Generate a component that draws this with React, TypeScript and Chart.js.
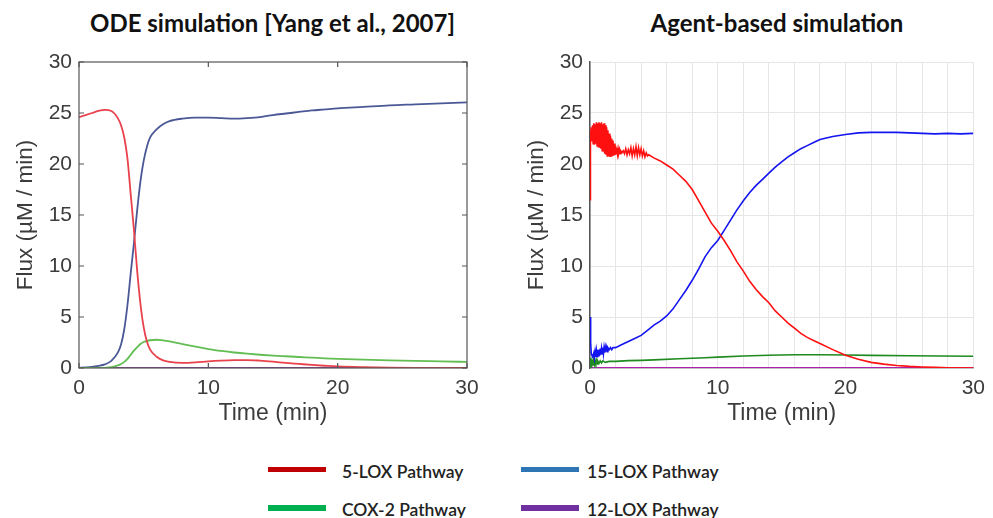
import React, { useEffect, useRef } from "react";
import { Chart, registerables } from "chart.js";

Chart.register(...registerables);

// ---------- ODE simulation [Yang et al., 2007] ----------
const odeTime = [0, 0.5, 1, 1.5, 2, 2.5, 3, 3.25, 3.5, 3.75, 4, 4.25, 4.5, 4.75, 5, 5.25, 5.5, 6, 6.5, 7, 8, 9, 10, 11, 12, 13, 14, 15, 16, 17, 18, 19, 20, 22, 24, 26, 28, 30];
const ode5LOX = [24.6, 24.8, 25.0, 25.2, 25.3, 25.2, 24.5, 23.8, 22.6, 20.5, 17.0, 13.5, 9.5, 6.3, 4.0, 2.6, 1.8, 1.1, 0.75, 0.6, 0.5, 0.55, 0.65, 0.72, 0.77, 0.78, 0.72, 0.62, 0.5, 0.4, 0.3, 0.22, 0.15, 0.08, 0.04, 0.02, 0.01, 0];
const ode15LOX = [0.02, 0.05, 0.1, 0.2, 0.35, 0.7, 1.5, 2.3, 3.8, 6.2, 9.3, 12.3, 15.5, 18.3, 20.3, 21.7, 22.6, 23.4, 23.9, 24.2, 24.45, 24.55, 24.55, 24.5, 24.45, 24.5, 24.6, 24.8, 24.95, 25.1, 25.25, 25.35, 25.45, 25.6, 25.75, 25.85, 25.95, 26.05];
const odeCOX2 = [0, 0, 0, 0.01, 0.02, 0.08, 0.25, 0.4, 0.6, 0.9, 1.3, 1.7, 2.05, 2.35, 2.55, 2.65, 2.72, 2.77, 2.7, 2.6, 2.35, 2.1, 1.85, 1.67, 1.52, 1.4, 1.3, 1.22, 1.15, 1.08, 1.02, 0.95, 0.9, 0.82, 0.75, 0.69, 0.64, 0.6];
const ode12LOX = [0, 0, 0, 0, 0, 0, 0, 0, 0, 0, 0, 0, 0, 0, 0, 0, 0, 0, 0, 0, 0, 0, 0, 0, 0, 0, 0, 0, 0, 0, 0, 0, 0, 0, 0, 0, 0, 0];

// ---------- Agent-based simulation ----------
const abm5LOXTime = [0, 0.02, 0.05,
  0.10, 0.15, 0.20, 0.25, 0.30, 0.35, 0.40, 0.45, 0.50, 0.55, 0.60, 0.65, 0.70, 0.75, 0.80, 0.85, 0.90, 0.95,
  1.00, 1.05, 1.10, 1.15, 1.20, 1.25, 1.30, 1.35, 1.40, 1.45, 1.50, 1.55, 1.60, 1.65, 1.70, 1.75, 1.80, 1.85, 1.90, 1.95,
  2.00, 2.05, 2.10, 2.15, 2.20, 2.25, 2.30, 2.35, 2.40, 2.50, 2.60,
  2.7, 2.8, 2.9, 3.0, 3.1, 3.2, 3.3, 3.4, 3.5, 3.6, 3.7, 3.8, 3.9, 4.0, 4.1, 4.2, 4.3, 4.4, 4.5, 4.6,
  5.0, 5.5, 6.0, 6.5, 7.0, 7.5, 8.0, 8.5, 9.0, 9.5, 10.0, 10.5, 11.0, 11.5, 12.0, 12.5, 13.0, 13.5, 14.0, 14.5, 15.0, 15.5, 16.0, 16.5, 17.0, 17.5, 18.0, 19.0, 20.0, 21.0, 22.0, 23.0, 24.0, 25.0, 26.0, 27.0, 28.0, 30.0];
const abm5LOX = [16.5, 22.0, 22.8,
  23.6, 22.2, 23.8, 22.0, 24.0, 21.9, 23.9, 22.0, 24.1, 21.8, 24.0, 21.7, 24.1, 21.6, 24.0, 21.5, 24.1, 21.3,
  23.9, 21.2, 24.0, 21.0, 23.8, 20.9, 23.6, 20.8, 23.3, 20.8, 23.0, 20.7, 22.8, 20.8, 22.5, 20.9, 22.3, 20.8, 22.0, 20.9,
  21.8, 21.0, 21.6, 21.0, 21.5, 21.1, 21.4, 21.0, 21.3, 21.1, 21.3,
  21.0, 21.5, 20.9, 21.4, 21.0, 21.6, 20.8, 21.5, 20.9, 21.7, 20.8, 21.6, 20.9, 21.5, 20.8, 21.3, 20.7, 21.1, 20.8, 20.9,
  20.6, 20.3, 19.9, 19.5, 18.9, 18.3, 17.5, 16.4, 15.3, 14.2, 13.4, 12.5, 11.5, 10.4, 9.5, 8.5, 7.7, 7.0, 6.4, 5.6, 5.0, 4.4, 3.9, 3.4, 3.0, 2.7, 2.4, 1.8, 1.25, 0.85, 0.55, 0.38, 0.25, 0.16, 0.1, 0.06, 0.03, 0.0];

const abm15LOXTime = [0, 0.05, 0.1, 0.2,
  0.3, 0.35, 0.4, 0.45, 0.5, 0.55, 0.6, 0.65, 0.7, 0.75, 0.8, 0.85, 0.9, 0.95, 1.0, 1.05, 1.1, 1.15, 1.2, 1.25, 1.3, 1.35, 1.4, 1.5, 1.6, 1.7, 1.8,
  2.0, 2.5, 3.0, 3.5, 4.0, 4.5, 5.0, 5.5, 6.0, 6.5, 7.0, 7.5, 8.0, 8.5, 9.0, 9.5, 10.0, 10.5, 11.0, 11.5, 12.0, 12.5, 13.0, 13.5, 14.0, 14.5, 15.0, 15.5, 16.0, 16.5, 17.0, 17.5, 18.0, 19.0, 20.0, 21.0, 22.0, 23.0, 24.0, 25.0, 26.0, 27.0, 28.0, 29.0, 30.0];
const abm15LOX = [5.0, 2.5, 1.4, 1.1,
  1.5, 1.0, 1.6, 1.1, 1.7, 1.1, 1.8, 1.2, 1.8, 1.2, 1.9, 1.3, 1.9, 1.4, 2.0, 1.4, 2.0, 1.5, 2.0, 1.6, 2.0, 1.6, 2.0, 1.8, 2.0, 1.8, 2.0,
  2.0, 2.3, 2.6, 2.9, 3.2, 3.7, 4.2, 4.6, 5.1, 5.8, 6.7, 7.6, 8.6, 9.7, 10.9, 11.8, 12.5, 13.5, 14.5, 15.5, 16.4, 17.2, 17.9, 18.5, 19.1, 19.7, 20.2, 20.7, 21.1, 21.5, 21.8, 22.1, 22.4, 22.7, 22.9, 23.05, 23.1, 23.1, 23.1, 23.05, 23.0, 22.95, 23.0, 22.95, 23.0];

const abmCOX2Time = [0, 0.05, 0.1, 0.15, 0.2, 0.25, 0.3, 0.35, 0.4, 0.45, 0.5, 0.55, 0.6, 0.7, 0.8, 0.9, 1.0, 1.2, 1.5, 2.0, 3.0, 4.0, 5.0, 7.0, 9.0, 10.0, 12.0, 14.0, 16.0, 18.0, 20.0, 22.0, 25.0, 30.0];
const abmCOX2 = [1.0, 0.4, 0.7, 0.3, 0.6, 0.3, 0.65, 0.35, 0.65, 0.35, 0.7, 0.4, 0.7, 0.45, 0.7, 0.5, 0.7, 0.55, 0.65, 0.65, 0.72, 0.75, 0.8, 0.9, 1.0, 1.07, 1.17, 1.25, 1.3, 1.3, 1.28, 1.24, 1.2, 1.15];

const abm12LOXTime = [0, 0.05, 0.1, 1.0, 30.0];
const abm12LOX = [0.8, 0.2, 0.05, 0.03, 0.02];

// ---------- Legend ----------
const legendLabels = ["5-LOX Pathway", "15-LOX Pathway", "COX-2 Pathway", "12-LOX Pathway"];
const legendColors = ["#c00000", "#2e75b6", "#00b050", "#7030a0"];

const chartTitles = ["ODE simulation [Yang et al., 2007]", "Agent-based simulation"];
const xAxisTitle = "Time (min)";
const yAxisTitle = "Flux (\u00b5M / min)";

const FAMILY = "'Liberation Sans', Arial, Helvetica, sans-serif";
const TICK_FONT = { family: FAMILY, size: 21 };
const YTITLE_FONT = { family: FAMILY, size: 22.5 };
const XTITLE_FONT = { family: FAMILY, size: 23 };
const TEXT_COLOR = "#3c3c3c";

const pts = (xs: number[], ys: number[]) => xs.map((x, i) => ({ x, y: ys[i] }));

const matlabBox = {
  id: "matlabBox",
  afterDatasetsDraw(chart: any) {
    const { ctx, chartArea: a, scales } = chart;
    ctx.save();
    ctx.strokeStyle = "#555";
    ctx.lineWidth = 1.2;
    ctx.strokeRect(a.left, a.top, a.right - a.left, a.bottom - a.top);
    const len = 5;
    ctx.beginPath();
    scales.x.ticks.forEach((t: any) => {
      const px = scales.x.getPixelForValue(t.value);
      ctx.moveTo(px, a.bottom);
      ctx.lineTo(px, a.bottom - len);
      ctx.moveTo(px, a.top);
      ctx.lineTo(px, a.top + len);
    });
    scales.y.ticks.forEach((t: any) => {
      const py = scales.y.getPixelForValue(t.value);
      ctx.moveTo(a.left, py);
      ctx.lineTo(a.left + len, py);
      ctx.moveTo(a.right, py);
      ctx.lineTo(a.right - len, py);
    });
    ctx.stroke();
    ctx.restore();
  },
};

function OdeChart() {
  const ref = useRef<HTMLCanvasElement>(null);
  useEffect(() => {
    const chart = new Chart(ref.current!, {
      type: "line",
      data: {
        datasets: [
          { label: legendLabels[0], data: pts(odeTime, ode5LOX), borderColor: "#e8424c", cubicInterpolationMode: "monotone" },
          { label: legendLabels[2], data: pts(odeTime, odeCOX2), borderColor: "#62bd52", cubicInterpolationMode: "monotone" },
          { label: legendLabels[1], data: pts(odeTime, ode15LOX), borderColor: "#4a5896", cubicInterpolationMode: "monotone" },
          { label: legendLabels[3], data: pts(odeTime, ode12LOX), borderColor: "#8a3aa0", cubicInterpolationMode: "monotone" },
        ] as any,
      },
      options: {
        animation: false,
        responsive: false,
        parsing: false as any,
        elements: { point: { radius: 0 }, line: { borderWidth: 1.8 } },
        layout: { padding: { top: 22, right: 29, left: 0, bottom: 0 } },
        plugins: { legend: { display: false }, tooltip: { enabled: false } },
        scales: {
          x: {
            type: "linear",
            min: 0,
            max: 30,
            afterFit: (s: any) => { s.height = 62; },
            ticks: { stepSize: 10, font: TICK_FONT, color: TEXT_COLOR, padding: 8, maxRotation: 0, autoSkip: false },
            grid: { display: false, drawTicks: false },
            border: { display: false },
            title: { display: true, text: xAxisTitle, font: XTITLE_FONT, color: TEXT_COLOR, padding: { top: 0, bottom: 3 } },
          },
          y: {
            type: "linear",
            min: 0,
            max: 30,
            afterFit: (s: any) => { s.width = 79; },
            ticks: { stepSize: 5, font: TICK_FONT, color: TEXT_COLOR, padding: 7 },
            grid: { display: false, drawTicks: false },
            border: { display: false },
            title: { display: true, text: yAxisTitle, font: YTITLE_FONT, color: TEXT_COLOR, padding: { top: 12, bottom: 0 } },
          },
        },
      } as any,
      plugins: [matlabBox],
    });
    return () => chart.destroy();
  }, []);
  return <canvas ref={ref} width={496} height={390} style={{ position: "absolute", left: 0, top: 40 }} />;
}

function AbmChart() {
  const ref = useRef<HTMLCanvasElement>(null);
  useEffect(() => {
    const chart = new Chart(ref.current!, {
      type: "line",
      data: {
        datasets: [
          { label: legendLabels[0], data: pts(abm5LOXTime, abm5LOX), borderColor: "#ff1010" },
          { label: legendLabels[1], data: pts(abm15LOXTime, abm15LOX), borderColor: "#1414f0" },
          { label: legendLabels[2], data: pts(abmCOX2Time, abmCOX2), borderColor: "#1f8a1f" },
          { label: legendLabels[3], data: pts(abm12LOXTime, abm12LOX), borderColor: "#b020b0" },
        ] as any,
      },
      options: {
        animation: false,
        responsive: false,
        parsing: false as any,
        elements: { point: { radius: 0 }, line: { borderWidth: 1.6, tension: 0 } },
        layout: { padding: { top: 22, right: 15, left: 0, bottom: 0 } },
        plugins: { legend: { display: false }, tooltip: { enabled: false } },
        scales: {
          x: {
            type: "linear",
            min: 0,
            max: 30,
            afterFit: (s: any) => { s.height = 62; },
            ticks: {
              stepSize: 2,
              font: TICK_FONT,
              color: TEXT_COLOR,
              padding: 8,
              maxRotation: 0,
              autoSkip: false,
              callback: (v: any) => (Number(v) % 10 === 0 ? String(v) : ""),
            },
            grid: { color: "#e6e6e6", lineWidth: 1, drawTicks: false },
            border: { display: true, color: "#9a9a9a", width: 1.5 },
            title: { display: true, text: xAxisTitle, font: XTITLE_FONT, color: TEXT_COLOR, padding: { top: 0, bottom: 3 } },
          },
          y: {
            type: "linear",
            min: 0,
            max: 30,
            afterFit: (s: any) => { s.width = 90; },
            ticks: { stepSize: 5, font: TICK_FONT, color: TEXT_COLOR, padding: 7 },
            grid: { color: "#e6e6e6", lineWidth: 1, drawTicks: false },
            border: { display: true, color: "#555", width: 1.5 },
            title: { display: true, text: yAxisTitle, font: YTITLE_FONT, color: TEXT_COLOR, padding: { top: 23, bottom: 0 } },
          },
        },
      } as any,
    });
    return () => chart.destroy();
  }, []);
  return <canvas ref={ref} width={493} height={390} style={{ position: "absolute", left: 500, top: 40 }} />;
}

export default function App() {
  const titleStyle: React.CSSProperties = {
    position: "absolute",
    top: 9,
    fontFamily: "Lato, 'Open Sans', sans-serif",
    fontWeight: 700,
    fontSize: 24,
    lineHeight: "28px",
    color: "#111",
    textAlign: "center",
    whiteSpace: "nowrap",
  };
  const legendText: React.CSSProperties = {
    position: "absolute",
    fontFamily: "Lato, 'Open Sans', sans-serif",
    fontWeight: 600,
    fontSize: 17.5,
    lineHeight: "20px",
    color: "#222",
    whiteSpace: "nowrap",
  };
  const rows = [469.5, 508];
  const cols = [{ line: 268, text: 342 }, { line: 521, text: 587 }];
  return (
    <div style={{ position: "fixed", left: 0, top: 0, width: 993, height: 518, background: "#fff", overflow: "hidden" }}>
      <div style={{ ...titleStyle, left: 0, width: 545 }}>{chartTitles[0]}</div>
      <div style={{ ...titleStyle, left: 561, width: 432 }}>{chartTitles[1]}</div>
      <OdeChart />
      <AbmChart />
      {legendLabels.map((lab, i) => {
        const col = cols[i % 2];
        const rowY = rows[Math.floor(i / 2)];
        return (
          <React.Fragment key={lab}>
            <div style={{ position: "absolute", left: col.line, top: rowY - 2.75, width: 58, height: 5.5, background: legendColors[i] }} />
            <div style={{ ...legendText, left: col.text, top: rowY - 8 }}>{lab}</div>
          </React.Fragment>
        );
      })}
    </div>
  );
}
